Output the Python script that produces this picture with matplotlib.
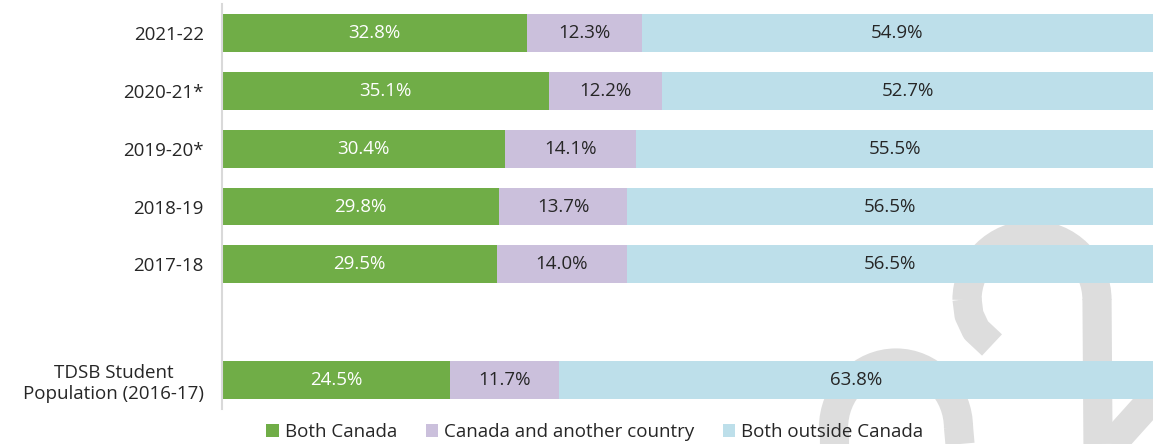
import numpy as np
import matplotlib.pyplot as plt
from matplotlib.patches import Arc
from matplotlib.lines import Line2D

plt.rcParams['font.family'] = ['Open Sans', 'DejaVu Sans']

categories = ['2021-22', '2020-21*', '2019-20*', '2018-19', '2017-18', '',
              'TDSB Student\nPopulation (2016-17)']
both_canada = [32.8, 35.1, 30.4, 29.8, 29.5, 0, 24.5]
canada_other = [12.3, 12.2, 14.1, 13.7, 14.0, 0, 11.7]
both_outside = [54.9, 52.7, 55.5, 56.5, 56.5, 0, 63.8]
series_names = ['Both Canada', 'Canada and another country', 'Both outside Canada']
colors = ['#70AD47', '#CBC0DC', '#BDDFEA']
text_colors = ['white', '#262626', '#262626']

fig = plt.figure(figsize=(11.53, 4.44), dpi=100)

# grey watermark behind the chart (decoration, figure pixel coords)
wm = fig.add_axes([0, 0, 1, 1], zorder=0)
wm.set_xlim(0, 1153)
wm.set_ylim(444, 0)
wm.axis('off')
gc = '#DDDDDD'
lw = 21
wm.add_patch(Arc((1032, 300), 130, 130, theta1=180, theta2=360, lw=lw, color=gc))
wm.add_line(Line2D([967, 969, 976, 992], [299, 315, 330, 345], lw=lw, color=gc, solid_capstyle='butt'))
wm.add_line(Line2D([1097, 1098], [299, 444], lw=lw, color=gc, solid_capstyle='butt'))
wm.add_patch(Arc((896, 428), 125, 130, theta1=180, theta2=360, lw=lw, color=gc))
wm.add_line(Line2D([833.5, 833.5], [427, 444], lw=lw, color=gc, solid_capstyle='butt'))
wm.add_line(Line2D([958.5, 960], [427, 444], lw=lw, color=gc, solid_capstyle='butt'))
wm.add_line(Line2D([1165, 1112], [385, 444], lw=lw, color=gc, solid_capstyle='butt'))

ax = fig.add_axes([222 / 1153, 35 / 444, 1 - 222 / 1153, 405 / 444], zorder=1)
ax.patch.set_alpha(0)

y = np.arange(len(categories))
left = np.zeros(len(categories))
for vals, name, c, tc in zip([both_canada, canada_other, both_outside], series_names, colors, text_colors):
    vals = np.array(vals)
    mask = vals > 0
    bars = ax.barh(y[mask], vals[mask], left=left[mask], height=0.655, color=c, label=name)
    ax.bar_label(bars, labels=[f'{v:.1f}%' for v in vals[mask]], label_type='center',
                 color=tc, fontsize=13.5)
    left = left + vals

ax.set_xlim(0, 100)
ax.set_ylim(6.5, -0.5)
ax.set_yticks(y)
ax.set_yticklabels(categories, fontsize=13.5, color='#262626', multialignment='center')
ax.tick_params(axis='y', length=0, pad=13)
ax.set_xticks([])
for s in ['top', 'right', 'bottom']:
    ax.spines[s].set_visible(False)
ax.spines['left'].set_color('#D9D9D9')
ax.spines['left'].set_linewidth(1.5)

fig.legend(loc='center', bbox_to_anchor=(595 / 1153, 1 - 432 / 444), ncol=3, frameon=False,
           fontsize=13.5, handlelength=0.65, handleheight=0.65, columnspacing=1.5,
           handletextpad=0.35, labelcolor='#262626')

fig.savefig('out.png', dpi=100)
